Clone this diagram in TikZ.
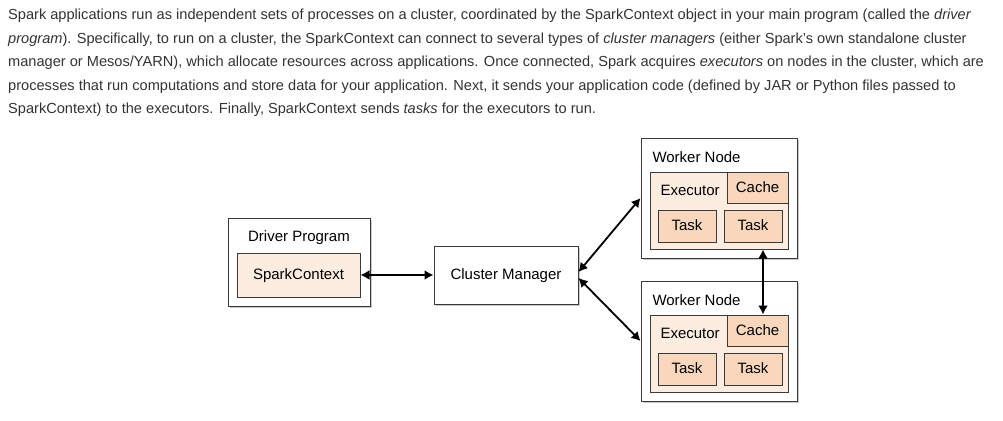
\documentclass[tikz,border=0pt]{standalone}
\usepackage{fontspec}
\setmainfont{Liberation Sans}
\usetikzlibrary{
  arrows.meta,
  shadows
}
\definecolor{textgray}{HTML}{333333}
\definecolor{linegray}{HTML}{3A3A3A}
\definecolor{lightpeach}{HTML}{FCEDE0}
\definecolor{darkpeach}{HTML}{F9D7BC}

\begin{document}
\begin{tikzpicture}[
  x=1pt, y=-1pt,
  >={Latex[length=9pt,width=10pt]},
  para/.style={anchor=base west, inner sep=0pt, text=textgray,
    font=\fontsize{14.6}{17}\selectfont},
  box/.style={draw=linegray, line width=1pt, inner sep=0pt,
    font=\fontsize{15}{17}\selectfont},
  outerbox/.style={box, fill=white,
    drop shadow={shadow xshift=2pt, shadow yshift=-2pt, fill=black!30, opacity=.7}},
  execbox/.style={box, fill=lightpeach},
  taskbox/.style={box, fill=darkpeach},
  link/.style={<->, line width=1.8pt},
]
\useasboundingbox (0,0) rectangle (1003,420);

% paragraph
\node[para] (line1) at (8,20) {Spark applications run as independent sets of processes on a cluster, coordinated by the SparkContext object in your main program (called the \textit{driver}};
\node[para] (line2) at (8,43.5) {\textit{program}). Specifically, to run on a cluster, the SparkContext can connect to several types of \textit{cluster managers} (either Spark’s own standalone cluster};
\node[para] (line3) at (8,66.8) {manager or Mesos/YARN), which allocate resources across applications. Once connected, Spark acquires \textit{executors} on nodes in the cluster, which are};
\node[para] (line4) at (8,90) {processes that run computations and store data for your application. Next, it sends your application code (defined by JAR or Python files passed to};
\node[para] (line5) at (8,113.3) {SparkContext) to the executors. Finally, SparkContext sends \textit{tasks} for the executors to run.};

% driver
\node[outerbox, minimum width=142pt, minimum height=88pt] (driver) at (299,262) {};
\node[box, draw=none, anchor=base] (driverlabel) at (299,241) {Driver Program};
\node[execbox, minimum width=123pt, minimum height=44pt, text depth=1pt] (sc) at (298.5,275) {SparkContext};

% cluster manager
\node[outerbox, minimum width=144pt, minimum height=58pt, text depth=1pt] (cm) at (506,275) {Cluster Manager};

% workers
\foreach \w/\dy in {1/0, 2/143} {
  \node[outerbox, minimum width=156pt, minimum height=120pt] (worker\w) at (719,198+\dy) {};
  \node[box, draw=none, anchor=base west] (workerlabel\w) at (652,162+\dy) {Worker Node};
  \node[execbox, minimum width=138pt, minimum height=77pt] (exec\w) at (719,210.5+\dy) {};
  \node[box, draw=none, anchor=base west] (execlabel\w) at (660,195+\dy) {Executor};
  \node[taskbox, minimum width=61pt, minimum height=31pt, text depth=1pt] (cache\w) at (757.5,187.5+\dy) {Cache};
  \node[taskbox, minimum width=58pt, minimum height=32pt, text depth=1pt] (taska\w) at (687,226+\dy) {Task};
  \node[taskbox, minimum width=58pt, minimum height=32pt, text depth=1pt] (taskb\w) at (753,226+\dy) {Task};
}

% connectors
\draw[link] (sc.east) -- (cm.west);
\draw[link] ([yshift=3pt]cm.east) -- (worker1.west);
\draw[link] ([yshift=-3pt]cm.east) -- (worker2.west);
\draw[link] ([xshift=5.5pt]cache2.north |- exec1.south) -- ([xshift=5.5pt]cache2.north);
\end{tikzpicture}
\end{document}
